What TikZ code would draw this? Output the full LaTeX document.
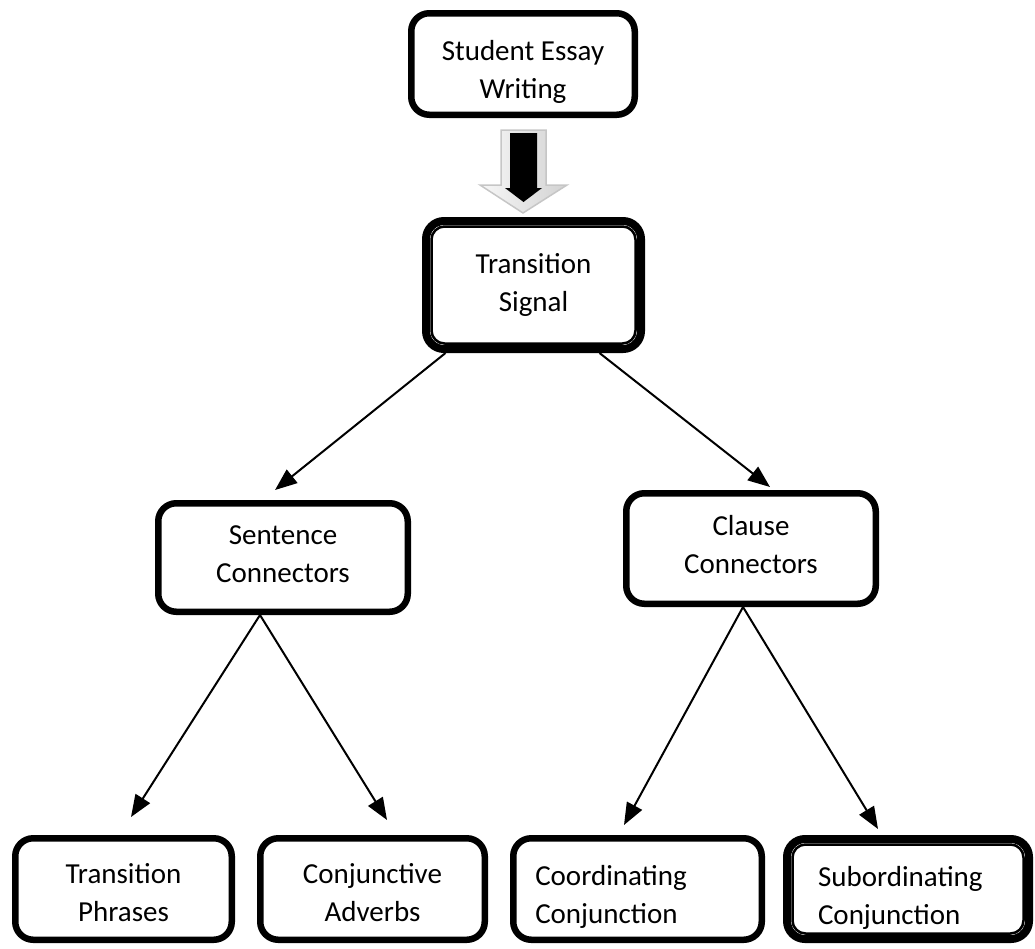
\documentclass[tikz,border=0pt]{standalone}
\usepackage{fontspec}
\setmainfont{Carlito}
\usetikzlibrary{arrows.meta,calc}
\newcommand\tup[1]{\rule{0pt}{#1}}
\newcommand\tdn[1]{\rule[-#1]{0pt}{#1}}
\begin{document}
\begin{tikzpicture}[x=1pt,y=-1pt,
  box/.style={draw=black,line width=6.5pt,rounded corners=18pt,fill=white,
    align=center,inner sep=0pt,font=\fontsize{29}{38}\selectfont},
  dbox/.style={box,line width=8pt},
  conn/.style={line width=2pt,-{Triangle[length=22pt,width=17pt]}},
  inner/.style={draw=black,line width=2.5pt,rounded corners=13pt}]
\useasboundingbox (0,0) rectangle (1035,948);
% nodes
\node[box,minimum width=223.5pt,minimum height=101.5pt] (top) at (523,64) {\tup{35pt}Student Essay\\Writing};
\node[dbox,minimum width=215pt,minimum height=128pt] (sig) at (533.5,285) {Transition\\Signal};
\draw[inner] ($(sig.north west)+(9.5,9.5)$) rectangle ($(sig.south east)+(-9.5,-9.5)$);
\node[box,minimum width=249.5pt,minimum height=108.5pt] (sent) at (283,557.5) {Sentence\\Connectors\tdn{6pt}};
\node[box,minimum width=249.5pt,minimum height=110.5pt] (clause) at (751,548.5) {Clause\\Connectors\tdn{9pt}};
\node[box,minimum width=216.5pt,minimum height=101.5pt] (tp) at (123.5,889) {\tup{27pt}Transition\\Phrases};
\node[box,minimum width=224.5pt,minimum height=101.5pt] (ca) at (372.5,889) {\tup{27pt}Conjunctive\\Adverbs};
\node[box,minimum width=248.5pt,minimum height=101.5pt,align=left,text width=204.5pt] (co) at (637.5,889) {\tup{36pt}Coordinating\\Conjunction};
\node[dbox,minimum width=242pt,minimum height=100pt,align=left,text width=180pt] (sub) at (908,889) {\tup{37pt}Subordinating\\Conjunction};
\draw[inner] ($(sub.north west)+(9.5,9.5)$) rectangle ($(sub.south east)+(-9.5,-9.5)$);
% big block arrow
\draw[gray!45,line width=1.5pt,left color=gray!6,right color=gray!35]
  (501,130) -- (546,130) -- (546,185) -- (567,185) -- (523,213) -- (480,185) -- (501,185) -- cycle;
\fill[black] (510,133) -- (537,133) -- (537,188) -- (542,188) -- (523.5,202) -- (505,188) -- (510,188) -- cycle;
% connector ends
\coordinate (e1) at (275,490);
\coordinate (e2) at (770,487);
\coordinate (e3) at (131,817);
\coordinate (e4) at (387,820);
\coordinate (e5) at (624,825);
\coordinate (e6) at (878,829);
\draw[conn] ([xshift=-88pt]sig.south) -- (e1);
\draw[conn] ([xshift=66pt]sig.south) -- (e2);
\draw[conn] ([xshift=-23pt]sent.south) -- (e3);
\draw[conn] ([xshift=-23pt]sent.south) -- (e4);
\draw[conn] ([xshift=-8pt]clause.south) -- (e5);
\draw[conn] ([xshift=-8pt]clause.south) -- (e6);
\end{tikzpicture}
\end{document}
